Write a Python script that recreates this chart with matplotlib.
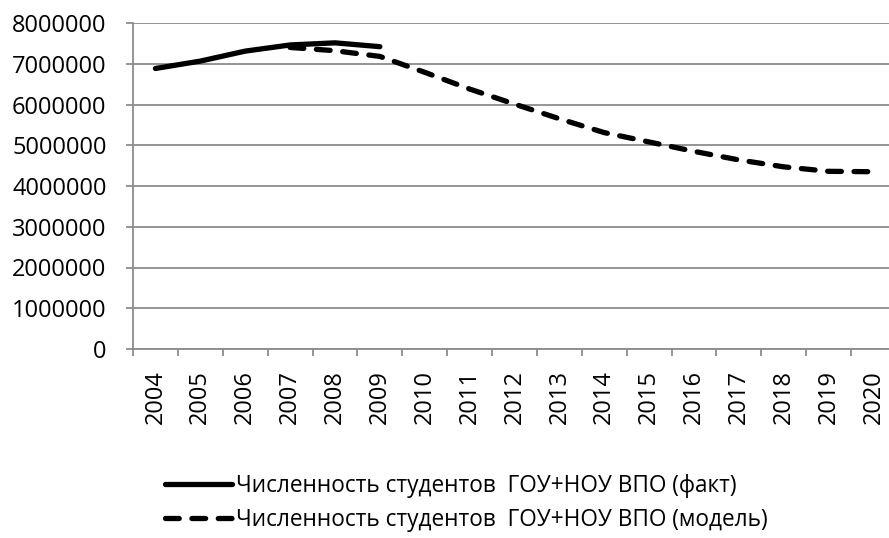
import matplotlib
matplotlib.use('Agg')
import matplotlib.pyplot as plt
from matplotlib.ticker import FixedLocator, NullFormatter

plt.rcParams['font.family'] = ['Open Sans', 'DejaVu Sans']

years = ['2004', '2005', '2006', '2007', '2008', '2009', '2010', '2011', '2012',
         '2013', '2014', '2015', '2016', '2017', '2018', '2019', '2020']

# факт: 2004-2009
fact = [6884000, 7065000, 7310000, 7461000, 7513000, 7419000]
# модель: 2007-2020
model = [7400000, 7320000, 7180000, 6790000, 6380000, 6010000, 5650000,
         5310000, 5080000, 4850000, 4640000, 4470000, 4360000, 4350000]
model_start = 3

label_fact = 'Численность студентов  ГОУ+НОУ ВПО (факт)'
label_model = 'Численность студентов  ГОУ+НОУ ВПО (модель)'

grey = '#8c8c8c'
fs = 17

fig = plt.figure(figsize=(8.89, 5.38), dpi=100)
ax = fig.add_axes([133 / 889, 1 - 349 / 538, 763 / 889, 326 / 538])

x_fact = list(range(len(fact)))
x_model = list(range(model_start, model_start + len(model)))

ax.plot(x_fact, fact, color='black', lw=3.8, solid_capstyle='round',
        solid_joinstyle='round', label=label_fact)
ax.plot(x_model, model, color='black', lw=3.8, linestyle=(0, (2.6, 2.4)),
        dash_capstyle='round', label=label_model)

ax.set_xlim(-0.5, len(years) - 0.5)
ax.set_ylim(0, 8000000)
ax.set_yticks(range(0, 8000001, 1000000))
ax.set_yticklabels([str(v) for v in range(0, 8000001, 1000000)], fontsize=fs)

ax.set_xticks(range(len(years)))
ax.set_xticklabels(years, rotation=90, fontsize=fs)
ax.xaxis.set_minor_locator(FixedLocator([i - 0.5 for i in range(len(years) + 1)]))
ax.xaxis.set_minor_formatter(NullFormatter())
ax.tick_params(axis='x', which='major', length=0, pad=15)
ax.tick_params(axis='x', which='minor', length=5, width=1.3, color=grey)
ax.tick_params(axis='y', length=5, width=1.3, color=grey, pad=14)

ax.grid(axis='y', color=grey, lw=1.3)
ax.set_axisbelow(True)
for s in ['top', 'right']:
    ax.spines[s].set_visible(False)
for s in ['left', 'bottom']:
    ax.spines[s].set_color(grey)
    ax.spines[s].set_linewidth(1.3)

handles, labels = ax.get_legend_handles_labels()
fig.legend(handles, labels, loc='upper left', bbox_to_anchor=(165 / 889, 1 - 474 / 538),
           frameon=False, fontsize=16.3, handlelength=2.95, handletextpad=0.2,
           borderpad=0, borderaxespad=0, labelspacing=0.42)

fig.savefig('out.png', dpi=100)
